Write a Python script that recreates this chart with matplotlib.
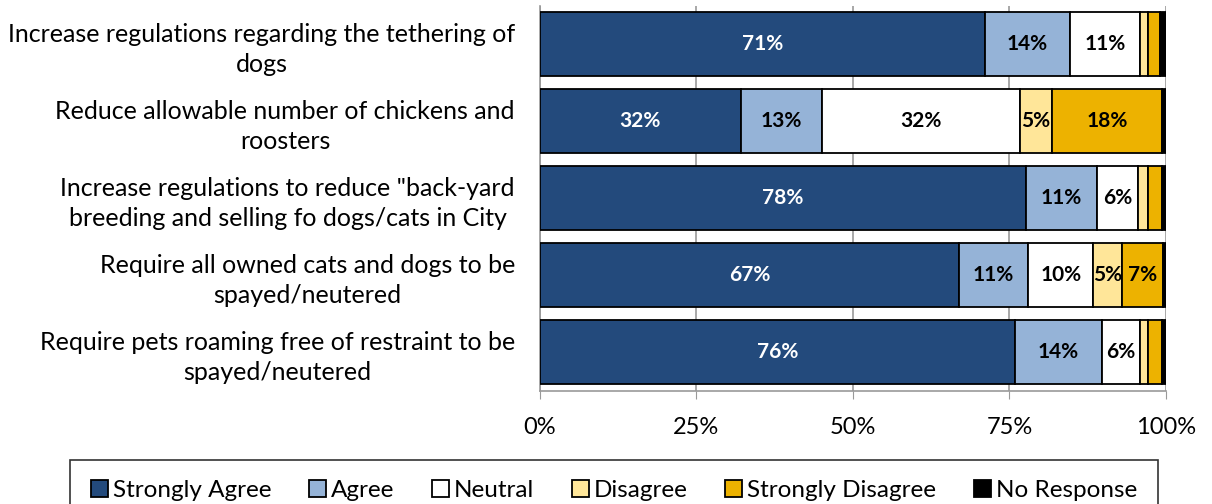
import numpy as np
import matplotlib
matplotlib.use("Agg")
import matplotlib.pyplot as plt

plt.rcParams['font.family'] = ['Lato', 'DejaVu Sans']

# Вопросы (сверху вниз)
questions = [
    "Increase regulations regarding the tethering of\ndogs",
    "Reduce allowable number of chickens and\nroosters",
    "Increase regulations to reduce \"back-yard\nbreeding and selling fo dogs/cats in City",
    "Require all owned cats and dogs to be\nspayed/neutered",
    "Require pets roaming free of restraint to be\nspayed/neutered",
]
categories = ["Strongly Agree", "Agree", "Neutral", "Disagree", "Strongly Disagree", "No Response"]

# Доли ответов, %
strongly_agree = [71.1, 32.1, 77.6, 66.9, 75.9]
agree = [13.6, 12.9, 11.4, 11.1, 13.9]
neutral = [11.1, 31.7, 6.5, 10.4, 6.0]
disagree = [1.3, 5.1, 1.6, 4.6, 1.3]
strongly_disagree = [1.9, 17.6, 2.3, 6.6, 2.3]
no_response = [1.0, 0.6, 0.6, 0.4, 0.6]

series = [strongly_agree, agree, neutral, disagree, strongly_disagree, no_response]
colors = ["#234A7C", "#95B3D7", "#FFFFFF", "#FFE699", "#EDB200", "#000000"]
text_colors = ["white", "black", "black", "black", "black", "black"]

fig = plt.figure(figsize=(12.12, 5.04), dpi=100)
ax = fig.add_axes([0.4455, 0.225, 0.5165, 0.764])

y = np.arange(len(questions))
left = np.zeros(len(questions))
handles = []
for vals, col, tc, name in zip(series, colors, text_colors, categories):
    vals = np.array(vals)
    bars = ax.barh(y, vals, left=left, height=0.83, color=col,
                   edgecolor="black", linewidth=1.3, label=name, zorder=3)
    handles.append(bars)
    for yi, (l, v) in enumerate(zip(left, vals)):
        if v >= 4.5:
            ax.text(l + v / 2, yi, f"{round(v):.0f}%", ha="center", va="center",
                    color=tc, fontsize=15, fontweight="bold", zorder=4)
    left += vals

ax.set_ylim(len(questions) - 0.5, -0.5)
ax.set_xlim(0, 100)
ax.set_xticks([0, 25, 50, 75, 100])
ax.set_xticklabels(["0%", "25%", "50%", "75%", "100%"], fontsize=17)
ax.set_yticks(y)
ax.set_yticklabels(questions, fontsize=18, linespacing=1.38)
for t in ax.get_yticklabels():
    t.set_multialignment("center")
ax.tick_params(axis="y", length=0, pad=18)
ax.tick_params(axis="x", length=6, color="#999999", pad=13)
ax.grid(axis="x", color="#999999", linewidth=1.2, zorder=0)
for s in ["top", "right"]:
    ax.spines[s].set_visible(False)
for s in ["left", "bottom"]:
    ax.spines[s].set_color("#999999")
    ax.spines[s].set_linewidth(1.2)

leg = fig.legend(handles=handles, labels=categories, loc="upper center",
                 bbox_to_anchor=(0.5066, 0.088), ncol=6, frameon=True,
                 fancybox=False, edgecolor="black", fontsize=17.5,
                 handlelength=0.7, handleheight=0.7, handletextpad=0.2,
                 columnspacing=1.55, borderpad=0.85, borderaxespad=0)
leg.get_frame().set_linewidth(1.2)

fig.savefig("out.png", dpi=100)
